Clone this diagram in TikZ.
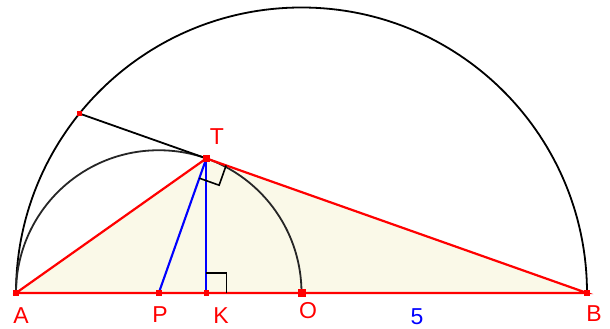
\documentclass[tikz,border=0pt]{standalone}
\usepackage{fontspec}
\setmainfont{Liberation Sans}
\usetikzlibrary{calc}
\definecolor{beige}{RGB}{250,249,232}
\definecolor{myred}{RGB}{255,0,0}
\definecolor{myblue}{RGB}{0,0,255}
\tikzset{
  redline/.style={draw=myred,line width=2.2pt},
  blueline/.style={draw=myblue,line width=2.1pt},
  arcline/.style={draw=black,line width=1.8pt},
  marker/.style={draw=black,line width=1.6pt},
  lbl/.style={text=myred,font=\fontsize{23}{23}\selectfont,inner sep=0pt},
  ptmark/.style={fill=myred,draw=none}
}
\begin{document}
\begin{tikzpicture}[x=1pt,y=1pt]
\useasboundingbox (0,0) rectangle (610,329);
\coordinate (A) at (16,36);
\coordinate (B) at (587,36);
\coordinate (O) at (301.5,36);
\coordinate (P) at (158.75,36);
\coordinate (T) at (206.333,170.586);
\coordinate (K) at (206.333,36);
\coordinate (C) at (79.45,215.45);
% shaded triangle
\fill[beige] (A) -- (T) -- (B) -- cycle;
% arcs
\draw[arcline] (A) arc[start angle=180,end angle=0,radius=285.5];
\draw[arcline,draw=black!85] (A) arc[start angle=180,end angle=0,radius=142.75];
% chord part
\draw[arcline] (C) -- (T);
% blue lines
\draw[blueline] (T) -- (P);
\draw[blueline] (T) -- (K);
% red lines
\draw[redline] (A) -- (T) -- (B) -- cycle;
% right angle markers
\coordinate (m1) at ($(T)!21pt!(P)$);
\coordinate (m2) at ($(T)!21pt!(B)$);
\coordinate (m3) at ($(m1)+(m2)-(T)$);
\draw[marker] (m1) -- (m3) -- (m2);
\draw[marker] ($(K)+(0,20)$) -- ($(K)+(20,20)$) -- ($(K)+(20,0)$);
% point markers
\foreach \p in {A,P,K,B,C}{\fill[ptmark] ($(\p)+(-2.8,-2.8)$) rectangle ($(\p)+(2.8,2.8)$);}
\fill[ptmark] ($(T)+(-3.6,-3.6)$) rectangle ($(T)+(3.6,3.6)$);
\fill[ptmark] ($(O)+(-4,-4)$) rectangle ($(O)+(4,4)$);
% labels
\node[lbl] (lA) at (21,13) {A};
\node[lbl] (lP) at (160,14) {P};
\node[lbl] (lK) at (221,13) {K};
\node[lbl] (lO) at (308,18) {O};
\node[lbl] (lB) at (594,15) {B};
\node[lbl] (lT) at (217,192) {T};
\node[lbl,text=myblue] (l5) at (417,12) {5};
\end{tikzpicture}
\end{document}
